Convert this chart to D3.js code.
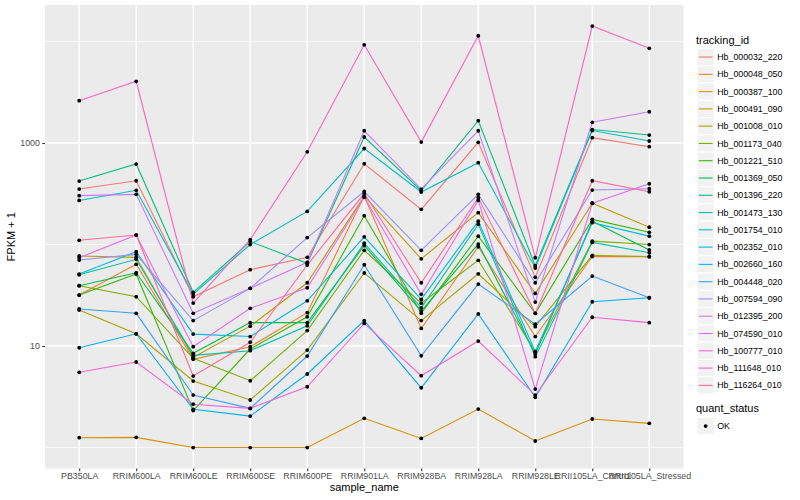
<!DOCTYPE html>
<html>
<head>
<meta charset="utf-8">
<script src="https://cdn.jsdelivr.net/npm/d3@7"></script>
<style>
  body { margin: 0; background: #fff; }
  svg { display: block; font-family: "Liberation Sans", Arial, sans-serif; }
</style>
</head>
<body>
<svg id="chart" width="800" height="500"></svg>
<script>
// samples on the x axis
const samples = ["PB350LA", "RRIM600LA", "RRIM600LE", "RRIM600SE", "RRIM600PE", "RRIM901LA",
  "RRIM928BA", "RRIM928LA", "RRIM928LE", "RRII105LA_Control", "RRII105LA_Stressed"];

// genes (tracking_id legend)
const genes = ["Hb_000032_220", "Hb_000048_050", "Hb_000387_100", "Hb_000491_090", "Hb_001008_010",
  "Hb_001173_040", "Hb_001221_510", "Hb_001369_050", "Hb_001396_220", "Hb_001473_130",
  "Hb_001754_010", "Hb_002352_010", "Hb_002660_160", "Hb_004448_020", "Hb_007594_090",
  "Hb_012395_200", "Hb_074590_010", "Hb_100777_010", "Hb_111648_010", "Hb_116264_010"];

// FPKM + 1, one row per gene, one value per sample
const fpkm = [
  [352, 425, 30.6, 56.5, 74.8, 625, 222, 1016, 47.5, 1128, 920],        // 000032_220
  [31.8, 63.8, 7.4, 9.84, 21.3, 300, 14.9, 95.1, 12.4, 76.2, 76.0],     // 000048_050
  [1.25, 1.26, 1.0, 1.0, 1.0, 1.94, 1.23, 2.39, 1.16, 1.91, 1.73],      // 000387_100
  [77.1, 74.8, 7.74, 15.7, 42.0, 300, 72.3, 206, 33.0, 255, 148],       // 000491_090
  [22.6, 13.2, 4.52, 2.94, 9.13, 52.4, 17.8, 51.5, 15.5, 78.3, 76.0],   // 001008_010
  [39.3, 30.6, 7.56, 4.55, 14.2, 87.7, 26.4, 69.9, 8.79, 108, 100],     // 001173_040
  [31.8, 51.2, 2.31, 9.34, 19.4, 192, 21.0, 121, 21.0, 177, 132],       // 001221_510
  [39.3, 52.7, 8.47, 17.0, 17.0, 97.7, 22.1, 101, 8.34, 170, 88.3],     // 001369_050
  [422, 621, 33.8, 107, 65.3, 1146, 339, 1659, 61.8, 1358, 1199],       // 001396_220
  [50.4, 71.5, 8.09, 8.99, 15.8, 103, 23.8, 158, 7.85, 105, 83.0],      // 001473_130
  [272, 342, 32.5, 100, 212, 883, 329, 640, 58.7, 1327, 1047],          // 001754_010
  [51.2, 84.9, 13.1, 12.4, 27.9, 119, 28.8, 170, 8.79, 164, 121],       // 002352_010
  [9.62, 13.2, 2.38, 2.04, 5.3, 17.8, 3.88, 20.7, 3.13, 27.3, 29.9],    // 002660_160
  [23.2, 21.0, 3.29, 2.43, 7.97, 63.2, 8.02, 40.8, 16.4, 48.9, 29.9],   // 004448_020
  [70.3, 80.0, 17.8, 37.0, 117, 333, 87.7, 312, 42.0, 344, 355],        // 007594_090
  [303, 312, 21.0, 37.0, 66.8, 1321, 352, 1321, 27.1, 1600, 2034],      // 012395_200
  [74.1, 124, 9.84, 23.5, 37.5, 292, 32.3, 272, 3.77, 255, 397],        // 074590_010
  [5.51, 6.96, 2.67, 2.43, 3.97, 16.7, 5.1, 11.2, 3.29, 19.2, 17.0],    // 100777_010
  [2612, 4055, 26.5, 112, 820, 9290, 1023, 11400, 74.1, 14200, 8570],   // 111648_010
  [110, 124, 5.06, 10.9, 62.8, 318, 42.0, 289, 21.0, 425, 331]          // 116264_010
];

const yMajor = [10, 1000];
const yMinor = [1, 100, 10000];
const statusLabels = ["OK"];

// ggplot-style hue palette (polar LUV -> sRGB)
function hclColor(h, c, l) {
  const Xn = 95.047, Yn = 100, Zn = 108.883;
  const un = 4 * Xn / (Xn + 15 * Yn + 3 * Zn), vn = 9 * Yn / (Xn + 15 * Yn + 3 * Zn);
  const hr = h * Math.PI / 180;
  const U = c * Math.cos(hr), V = c * Math.sin(hr);
  const Y = Yn * (l > 8 ? Math.pow((l + 16) / 116, 3) : l / 903.3);
  const u = U / (13 * l) + un, v = V / (13 * l) + vn;
  const X = 9 * Y * u / (4 * v);
  const Z = -X / 3 - 5 * Y + 3 * Y / v;
  const x = X / 100, y = Y / 100, z = Z / 100;
  const lin = [
    3.240479 * x - 1.537150 * y - 0.498535 * z,
    -0.969256 * x + 1.875992 * y + 0.041556 * z,
    0.055648 * x - 0.204043 * y + 1.057311 * z
  ];
  const g = lin.map(t => {
    t = t <= 0.0031308 ? 12.92 * t : 1.055 * Math.pow(t, 1 / 2.4) - 0.055;
    return Math.round(255 * Math.max(0, Math.min(1, t)));
  });
  return d3.rgb(g[0], g[1], g[2]).formatHex();
}
const hues = d3.range(genes.length).map(i => 15 + 360 * i / genes.length);
const colors = hues.map(h => hclColor(h, 100, 65));
const color = d3.scaleOrdinal().domain(genes).range(colors);

const svg = d3.select("#chart");
const panel = { left: 45, right: 683.5, top: 5, bottom: 468.6 };

const x = d3.scalePoint().domain(samples).range([panel.left, panel.right]).padding(0.6);

const allVals = fpkm.flat();
const lo = Math.log10(d3.min(allVals)), hi = Math.log10(d3.max(allVals));
const pad = (hi - lo) * 0.05;
const y = d3.scaleLog()
  .domain([Math.pow(10, lo - pad), Math.pow(10, hi + pad)])
  .range([panel.bottom, panel.top]);

// panel background
svg.append("rect")
  .attr("x", panel.left).attr("y", panel.top)
  .attr("width", panel.right - panel.left).attr("height", panel.bottom - panel.top)
  .attr("fill", "#EBEBEB");

// grid
const grid = svg.append("g");
grid.selectAll(".minor").data(yMinor).join("line")
  .attr("x1", panel.left).attr("x2", panel.right)
  .attr("y1", d => y(d)).attr("y2", d => y(d))
  .attr("stroke", "#fff").attr("stroke-width", 0.7);
grid.selectAll(".major").data(yMajor).join("line")
  .attr("x1", panel.left).attr("x2", panel.right)
  .attr("y1", d => y(d)).attr("y2", d => y(d))
  .attr("stroke", "#fff").attr("stroke-width", 1.4);
grid.selectAll(".vx").data(samples).join("line")
  .attr("x1", d => x(d)).attr("x2", d => x(d))
  .attr("y1", panel.top).attr("y2", panel.bottom)
  .attr("stroke", "#fff").attr("stroke-width", 1.4);

// lines
const line = d3.line().x((d, i) => x(samples[i])).y(d => y(d));
svg.append("g").selectAll("path").data(fpkm).join("path")
  .attr("d", d => line(d))
  .attr("fill", "none")
  .attr("stroke", (d, i) => color(genes[i]))
  .attr("stroke-width", 1.1);

// points
svg.append("g").selectAll("g").data(fpkm).join("g")
  .selectAll("circle").data(d => d).join("circle")
  .attr("cx", (d, i) => x(samples[i]))
  .attr("cy", d => y(d))
  .attr("r", 1.9)
  .attr("fill", "#000");

// axes
const xAxis = svg.append("g")
  .attr("transform", `translate(0,${panel.bottom})`)
  .call(d3.axisBottom(x).tickSize(2.7).tickPadding(1));
const yAxis = svg.append("g")
  .attr("transform", `translate(${panel.left},0)`)
  .call(d3.axisLeft(y).tickValues(yMajor).tickFormat(d3.format("d")).tickSize(2.7).tickPadding(2.5));
[xAxis, yAxis].forEach(a => {
  a.select(".domain").remove();
  a.selectAll(".tick line").attr("stroke", "#333").attr("stroke-width", 1.1);
  a.selectAll(".tick text").attr("fill", "#4D4D4D").attr("font-size", 8.8)
    .attr("font-family", "Liberation Sans, Arial, sans-serif");
});

svg.append("text")
  .attr("x", (panel.left + panel.right) / 2).attr("y", 491)
  .attr("text-anchor", "middle").attr("font-size", 11).attr("fill", "#000")
  .text("sample_name");
svg.append("text")
  .attr("transform", `translate(15,${(panel.top + panel.bottom) / 2}) rotate(-90)`)
  .attr("text-anchor", "middle").attr("font-size", 11).attr("fill", "#000")
  .text("FPKM + 1");

// legend: tracking_id
const legX = 697, keySize = 17.28;
const leg = svg.append("g");
leg.append("text").attr("x", legX - 1).attr("y", 44)
  .attr("font-size", 11).attr("fill", "#000").text("tracking_id");
const items = leg.selectAll(".item").data(genes).join("g")
  .attr("transform", (d, i) => `translate(${legX},${48.4 + i * keySize})`);
items.append("rect").attr("width", keySize).attr("height", keySize)
  .attr("fill", "#F2F2F2").attr("stroke", "#fff").attr("stroke-width", 1);
items.append("line").attr("x1", 1.7).attr("x2", keySize - 1.7)
  .attr("y1", keySize / 2).attr("y2", keySize / 2)
  .attr("stroke", d => color(d)).attr("stroke-width", 1.1);
items.append("text").attr("x", keySize + 3).attr("y", keySize / 2 + 3.1)
  .attr("font-size", 8.8).attr("fill", "#000").text(d => d);

// legend: quant_status
const leg2 = svg.append("g");
leg2.append("text").attr("x", legX - 1).attr("y", 412)
  .attr("font-size", 11).attr("fill", "#000").text("quant_status");
const items2 = leg2.selectAll(".item").data(statusLabels).join("g")
  .attr("transform", (d, i) => `translate(${legX},${417.4 + i * keySize})`);
items2.append("rect").attr("width", keySize).attr("height", keySize)
  .attr("fill", "#F2F2F2").attr("stroke", "#fff").attr("stroke-width", 1);
items2.append("circle").attr("cx", keySize / 2).attr("cy", keySize / 2)
  .attr("r", 1.9).attr("fill", "#000");
items2.append("text").attr("x", keySize + 3).attr("y", keySize / 2 + 3.1)
  .attr("font-size", 8.8).attr("fill", "#000").text(d => d);
</script>
</body>
</html>
